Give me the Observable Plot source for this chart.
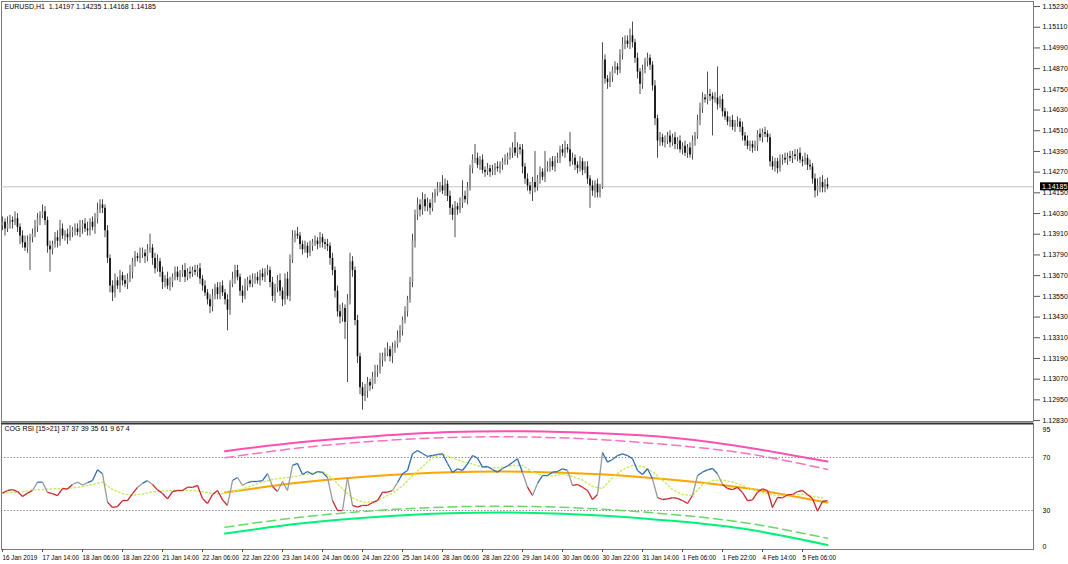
<!DOCTYPE html>
<html>
<head>
<meta charset="utf-8">
<script src="https://cdn.jsdelivr.net/npm/d3@7"></script>
<script src="https://cdn.jsdelivr.net/npm/@observablehq/plot@0.6"></script>
<style>
  html, body { margin: 0; padding: 0; background: #fff; }
  #chart svg { display: block; }
</style>
</head>
<body>
<div id="chart"></div>
<script>
// ---------- DATA ----------
const symbol = "EURUSD,H1";
const firstOpen = 1.1396;
// hourly closes, 16 Jan 22:00 … 5 Feb 16:00
const close = [
1.1398,1.1394,1.1397,1.1399,1.1398,1.1400,1.1395,1.1390,1.1386,1.1383,
1.1387,1.1389,1.1391,1.1395,1.1400,1.1402,1.1404,1.1399,1.1384,1.1382,
1.1385,1.1389,1.1387,1.1394,1.1390,1.1391,1.1389,1.1392,1.1393,1.1394,
1.1392,1.1395,1.1397,1.1394,1.1393,1.1398,1.1395,1.1400,1.1405,1.1408,
1.1406,1.1393,1.1377,1.1361,1.1357,1.1364,1.1361,1.1367,1.1364,1.1362,
1.1365,1.1369,1.1375,1.1378,1.1377,1.1379,1.1380,1.1378,1.1382,1.1383,
1.1377,1.1371,1.1375,1.1369,1.1363,1.1365,1.1361,1.1363,1.1366,1.1369,
1.1366,1.1368,1.1370,1.1366,1.1369,1.1368,1.1370,1.1369,1.1371,1.1365,
1.1361,1.1357,1.1353,1.1349,1.1355,1.1360,1.1356,1.1361,1.1357,1.1353,
1.1347,1.1362,1.1365,1.1370,1.1366,1.1358,1.1355,1.1361,1.1364,1.1362,
1.1365,1.1366,1.1364,1.1368,1.1366,1.1369,1.1370,1.1363,1.1355,1.1360,
1.1364,1.1358,1.1353,1.1365,1.1355,1.1376,1.1389,1.1391,1.1390,1.1385,
1.1382,1.1384,1.1380,1.1384,1.1386,1.1387,1.1385,1.1389,1.1386,1.1385,
1.1384,1.1377,1.1370,1.1358,1.1346,1.1343,1.1348,1.1340,1.1353,1.1375,
1.1370,1.1341,1.1320,1.1302,1.1297,1.1300,1.1305,1.1303,1.1308,1.1311,
1.1312,1.1318,1.1320,1.1322,1.1324,1.1320,1.1325,1.1327,1.1331,1.1335,
1.1341,1.1346,1.1353,1.1363,1.1387,1.1402,1.1408,1.1405,1.1411,1.1407,
1.1409,1.1406,1.1412,1.1415,1.1418,1.1419,1.1416,1.1420,1.1413,1.1406,
1.1402,1.1407,1.1405,1.1409,1.1413,1.1411,1.1418,1.1429,1.1434,1.1435,
1.1431,1.1434,1.1428,1.1427,1.1429,1.1427,1.1428,1.1430,1.1429,1.1431,
1.1433,1.1434,1.1436,1.1438,1.1441,1.1438,1.1441,1.1440,1.1430,1.1423,
1.1419,1.1416,1.1421,1.1418,1.1423,1.1427,1.1424,1.1429,1.1430,1.1433,
1.1430,1.1434,1.1435,1.1440,1.1438,1.1441,1.1440,1.1433,1.1435,1.1431,
1.1429,1.1433,1.1428,1.1430,1.1423,1.1419,1.1416,1.1420,1.1415,1.1418,
1.1492,1.1481,1.1479,1.1482,1.1486,1.1488,1.1486,1.1495,1.1501,1.1503,
1.1501,1.1506,1.1502,1.1493,1.1485,1.1478,1.1486,1.1491,1.1493,1.1489,
1.1477,1.1458,1.1445,1.1447,1.1444,1.1445,1.1448,1.1444,1.1447,1.1443,
1.1445,1.1440,1.1442,1.1438,1.1441,1.1437,1.1445,1.1448,1.1457,1.1464,
1.1470,1.1469,1.1472,1.1471,1.1469,1.1470,1.1466,1.1469,1.1462,1.1459,
1.1456,1.1457,1.1453,1.1455,1.1456,1.1453,1.1448,1.1445,1.1442,1.1443,
1.1441,1.1442,1.1449,1.1447,1.1450,1.1449,1.1447,1.1433,1.1430,1.1433,
1.1429,1.1434,1.1435,1.1434,1.1436,1.1435,1.1437,1.1436,1.1438,1.1434,
1.1433,1.1435,1.1431,1.1430,1.1423,1.1416,1.1419,1.1421,1.1418,1.14197,
1.14185
];
// wick lengths beyond the body, in pips
const wickUp = [
3,2,4,3,2,4,3,2,3,4, 3,2,3,4,3,2,4,3,2,3, 2,3,4,5,3,2,3,4,2,3, 3,4,2,3,4,2,3,3,4,3,
3,2,3,2,3,4,2,3,2,3, 3,4,2,3,2,4,3,2,3,8, 2,3,4,2,3,2,4,3,2,3, 3,2,3,4,2,3,2,3,2,3,
2,3,2,3,4,2,3,2,3,2, 3,2,4,3,3,2,3,4,2,3, 3,2,3,2,3,2,3,2,3,2, 3,4,2,3,4,3,4,2,4,2,
2,3,2,3,2,3,2,3,2,2, 3,2,3,2,3,4,3,2,3,5, 3,2,3,2,3,4,3,2,3,4, 3,4,2,3,4,2,3,2,4,3,
2,3,2,3,4,3,4,3,4,3, 3,2,3,2,3,2,6,3,2,3, 2,3,2,3,9,3,3,2,3,8, 3,2,3,2,3,2,3,2,3,2,
2,3,2,3,3,9,3,2,3,2, 3,2,3,18,2,3,2,10,3,2, 3,2,3,2,3,4,2,10,3,2, 2,3,2,3,3,2,3,2,3,2,
10,3,2,3,2,3,2,3,4,3, 3,4,8,2,3,2,3,2,3,2, 2,3,2,3,2,3,2,3,2,3, 2,3,2,3,2,3,3,2,3,3,
3,2,13,3,2,3,18,2,3,2, 3,2,3,2,3,2,3,2,3,2, 2,3,2,3,2,3,2,2,3,2, 2,3,2,3,2,3,2,3,2,3,
2,3,2,3,2,3,4,3,4,3, 3.8
];
const wickDn = [
3,4,2,3,4,2,3,5,3,2, 3,17,3,2,3,4,2,3,4,13, 3,2,4,3,2,3,4,2,3,3, 2,3,4,2,3,3,2,4,3,2,
3,4,3,4,5,3,2,4,3,2, 3,2,4,3,2,3,2,4,3,2, 4,3,2,3,4,3,2,3,3,2, 2,3,2,3,2,3,2,2,3,3,
3,2,3,4,3,2,3,3,2,3, 12,3,2,3,2,3,4,2,3,2, 2,3,2,3,2,3,2,3,3,4, 3,3,4,3,2,3,2,3,2,3,
3,2,3,2,3,2,3,2,3,3, 3,4,3,4,3,4,3,10,35,3, 4,3,4,4,8,3,4,3,2,4, 3,2,4,3,2,3,4,3,2,3,
3,2,3,2,3,4,3,4,3,3, 3,4,2,3,2,3,2,3,3,4, 3,13,3,2,3,2,3,2,3,2, 2,3,2,3,2,3,2,3,2,3,
3,2,3,2,3,2,3,3,4,3, 3,2,6,3,2,3,2,3,2,3, 2,3,2,3,2,3,2,3,2,3, 3,2,3,2,3,13,3,4,3,3,
1,3,4,3,3,2,3,2,3,3, 2,3,3,3,4,6,3,2,3,3, 3,4,10,3,2,3,2,3,2,3, 3,2,3,2,3,2,3,3,2,3,
3,2,3,3,21,2,3,2,3,2, 2,3,2,3,2,3,3,3,2,3, 3,2,3,2,3,2,3,3,2,3, 3,2,3,2,3,2,3,2,3,2,
3,2,3,2,3,4,3,4,3,3, 1.7
];
const priceTicks = [1.12830,1.12950,1.13070,1.13190,1.13310,1.13430,1.13550,1.13670,1.13790,1.13910,
  1.14030,1.14150,1.14270,1.14390,1.14510,1.14630,1.14750,1.14870,1.14990,1.15110,1.15230];
const timeTickBars = [0,16,32,48,64,80,96,112,128,144,160,176,192,208,224,240,256,272,288,304,320];
const timeLabels = ["16 Jan 2019","17 Jan 14:00","18 Jan 06:00","18 Jan 22:00","21 Jan 14:00","22 Jan 06:00",
  "22 Jan 22:00","23 Jan 14:00","24 Jan 06:00","24 Jan 22:00","25 Jan 14:00","28 Jan 06:00","28 Jan 22:00",
  "29 Jan 14:00","30 Jan 06:00","30 Jan 22:00","31 Jan 14:00","1 Feb 06:00","1 Feb 22:00","4 Feb 14:00","5 Feb 06:00"];

// RSI, every 2nd bar
const rsiStep = 2;
const rsi = [
43.1,45.1,45.8,44.3,40.6,43.1,45.1,51.4,51.4,43.6,
42.8,41.3,46.6,46.2,49.6,51.4,49.2,51.0,52.6,60.7,
57.7,36.3,32.3,33.0,37.5,37.5,42.8,47.4,50.5,52.5,
49.6,45.6,42.8,38.8,44.3,45.1,45.1,47.6,47.4,48.9,
39.0,35.3,42.1,45.1,38.0,33.8,52.6,54.9,48.9,51.1,
51.9,51.9,52.6,57.9,48.1,44.3,51.9,45.1,64.0,65.5,
57.2,59.4,57.2,59.4,58.7,54.9,37.5,30.0,30.0,54.9,
33.8,32.5,33.8,33.8,36.0,37.5,43.8,43.8,45.1,51.1,
57.7,60.2,72.8,75.3,73.0,70.8,71.5,72.3,72.8,65.5,
58.7,61.5,60.2,65.2,71.5,69.6,62.7,63.2,60.9,58.9,
61.7,63.6,66.2,69.0,58.7,47.6,41.3,50.4,56.4,56.4,
58.9,59.4,61.5,60.2,48.9,49.6,47.6,45.1,38.3,42.1,
73.8,66.5,68.5,71.5,72.8,71.5,69.0,60.2,57.2,61.5,
53.9,39.8,38.3,38.8,39.8,39.1,37.5,35.3,41.3,56.4,
58.9,60.7,61.7,57.7,49.6,46.6,45.8,47.4,43.6,37.5,
38.1,43.8,46.4,45.1,32.3,39.8,39.6,41.7,42.1,44.3,
45.1,42.1,39.1,29.5,36.8,37.4
];
// signal line, every 4th bar
const sigStep = 4;
const signal = [
43.1,43.6,44.0,45.5,45.8,46.4,46.4,47.0,48.1,49.6,
51.4,45.8,42.8,41.3,42.5,44.0,44.7,45.1,45.1,45.1,
44.3,42.8,42.6,44.0,46.2,48.9,51.5,53.4,54.5,55.3,
56.8,58.3,59.4,54.2,46.2,39.4,36.3,36.4,39.4,43.2,
48.5,56.4,63.2,70.0,72.6,69.6,67.0,65.1,62.8,62.1,
62.7,64.0,64.0,59.1,56.4,56.0,57.5,55.7,53.0,48.1,
46.6,54.9,60.9,64.0,63.2,59.4,53.0,45.8,42.1,41.3,
49.6,52.6,53.0,51.5,48.9,45.8,43.6,41.7,41.3,41.7,
42.1,40.6,39.5
];
// center of gravity channel (bar index samples)
const cogBars   = [89, 119, 149, 179, 209, 239, 269, 299, 330];
const cogCenter = [43.6, 51.1, 56.1, 58.9, 59.3, 57.3, 53.0, 46.4, 36.0];
const cogUpper  = [74.8, 81.5, 86.1, 89.2, 89.8, 88.3, 84.7, 77.2, 67.0];
const cogUpper2 = [69.8, 77.3, 82.3, 85.1, 85.5, 83.5, 79.2, 72.6, 61.0];
const cogLower2 = [17.4, 24.9, 29.9, 32.7, 33.1, 31.1, 26.8, 20.2, 9.0];
const cogLower  = [12.6, 20.1, 25.1, 27.9, 28.3, 26.3, 22.0, 15.4, 4.0];
const cogLegend = [37, 37, 39, 35, 61, 9, 67, 4];
const rsiLevels = [70, 30];
const rsiTopLabel = "95";
const rsiBottomLabel = "0";

// ---------- BUILD ----------
const pip = 0.0001;
const bars = close.map((c, i) => {
  const o = i === 0 ? firstOpen : close[i - 1];
  return {i, open: o, close: c, high: Math.max(o, c) + wickUp[i] * pip, low: Math.min(o, c) - wickDn[i] * pip};
});
const last = bars[bars.length - 1];
const f5 = d3.format(".5f");
const title = `${symbol}\u00a0 ${f5(last.open)} ${f5(last.high)} ${f5(last.low)} ${f5(last.close)}`;

const W = 1068;
const FONT = "'Liberation Sans Narrow', 'Liberation Sans', Arial, sans-serif";
const FS = "7px";
const xDomain = [-0.4, 412.4];

const main = Plot.plot({
  width: W, height: 422,
  marginLeft: 1, marginRight: 35, marginTop: 1, marginBottom: 1,
  style: {fontFamily: FONT, fontSize: FS, color: "#000", background: "#fff", overflow: "visible"},
  x: {domain: xDomain, axis: null},
  y: {domain: [1.128245, 1.152592], axis: null},
  marks: [
    Plot.frame({stroke: "#7a7a7a"}),
    Plot.ruleY([last.close], {stroke: "#c4c4c4"}),
    Plot.ruleX(bars, {x: "i", y1: "low", y2: "high", stroke: "#3a3a3a", strokeWidth: 0.9}),
    Plot.ruleX(bars, {x: "i", y1: "open", y2: "close", stroke: d => d.close >= d.open ? "#8c8c8c" : "#000", strokeWidth: 1.6}),
    Plot.axisY({anchor: "right", ticks: priceTicks, tickFormat: f5, tickSize: 6, tickPadding: 3, stroke: "#555"}),
    Plot.text([title], {frameAnchor: "top-left", dx: 3, dy: 3, lineAnchor: "top", textAnchor: "start", fill: "#000"})
  ]
});

// current price tag
{
  const y = main.scale("y").apply(last.close);
  const g = d3.select(main).append("g");
  g.append("rect").attr("x", 1040).attr("y", y - 4).attr("width", 28).attr("height", 8).attr("fill", "#000");
  g.append("text").attr("x", 1042).attr("y", y + 0.5).attr("dominant-baseline", "middle")
    .attr("text-anchor", "start").attr("fill", "#fff").attr("font-size", FS).attr("font-family", FONT)
    .text(f5(last.close));
}

// indicator data
const rsiPts = rsi.map((v, k) => ({i: k * rsiStep, v}));
const segs = [];
for (let k = 0; k < rsiPts.length - 1; k++) {
  const a = rsiPts[k], b = rsiPts[k + 1];
  const state = a.v >= 50 && b.v >= 50 ? "up" : (a.v < 50 && b.v < 50 ? "down" : "flat");
  segs.push({x1: a.i, y1: a.v, x2: b.i, y2: b.v, state});
}
const sigPts = signal.map((v, k) => ({i: k * sigStep, v}));
const band = arr => arr.map((v, k) => ({i: cogBars[k], v}));
const labelMap = new Map(timeTickBars.map((b, k) => [b, timeLabels[k]]));
const stateColor = {up: "#2e6db0", down: "#c8262c", flat: "#9a9a9a"};

const ind = Plot.plot({
  width: W, height: 142,
  marginLeft: 1, marginRight: 35, marginTop: 1, marginBottom: 15,
  style: {fontFamily: FONT, fontSize: FS, color: "#000", background: "#fff", overflow: "visible"},
  x: {domain: xDomain, axis: null},
  y: {domain: [0.566, 95.66], axis: null},
  marks: [
    Plot.frame({stroke: "#7a7a7a"}),
    Plot.ruleY([95.66], {stroke: "#333", strokeWidth: 2}),
    Plot.ruleY(rsiLevels, {stroke: "#777", strokeDasharray: "1.2,2"}),
    Plot.line(band(cogUpper), {x: "i", y: "v", curve: "natural", stroke: "#ff4fb0", strokeWidth: 2}),
    Plot.line(band(cogUpper2), {x: "i", y: "v", curve: "natural", stroke: "#ff6fc0", strokeWidth: 1.5, strokeDasharray: "9,5"}),
    Plot.line(band(cogLower2), {x: "i", y: "v", curve: "natural", stroke: "#66d966", strokeWidth: 1.5, strokeDasharray: "9,5"}),
    Plot.line(band(cogLower), {x: "i", y: "v", curve: "natural", stroke: "#00f27a", strokeWidth: 2}),
    Plot.line(band(cogCenter), {x: "i", y: "v", curve: "natural", stroke: "#ffa500", strokeWidth: 2}),
    Plot.line(sigPts, {x: "i", y: "v", stroke: "#c4ee58", strokeWidth: 1.4, strokeDasharray: "1.5,2.5"}),
    Plot.link(segs, {x1: "x1", y1: "y1", x2: "x2", y2: "y2", stroke: d => stateColor[d.state], strokeWidth: 1.3}),
    Plot.axisY({anchor: "right", ticks: rsiLevels, tickSize: 0, tickPadding: 9}),
    Plot.text([rsiTopLabel], {frameAnchor: "top-right", dx: 9, dy: 4, textAnchor: "start"}),
    Plot.text([rsiBottomLabel], {frameAnchor: "bottom-right", dx: 9, dy: -1, textAnchor: "start"}),
    Plot.axisX({anchor: "bottom", ticks: timeTickBars, tickFormat: d => labelMap.get(d), textAnchor: "start", tickSize: 3, tickPadding: 3, fontSize: "6.3px", stroke: "#555"}),
    Plot.text([`COG RSI [15>21] ${cogLegend.join(" ")}`], {frameAnchor: "top-left", dx: 3, dy: 3, lineAnchor: "top", textAnchor: "start", fill: "#000"})
  ]
});

document.getElementById("chart").append(main, ind);
</script>
</body>
</html>
